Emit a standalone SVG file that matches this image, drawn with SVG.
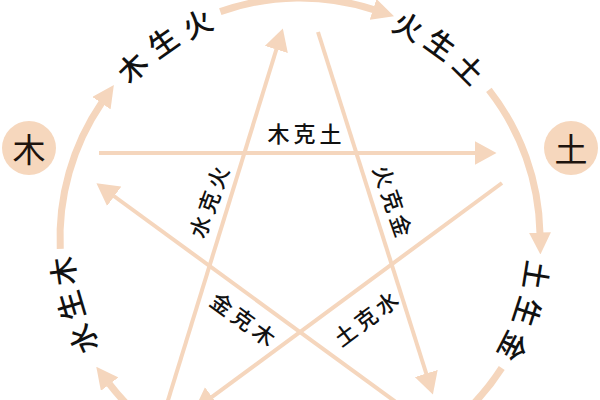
<svg xmlns="http://www.w3.org/2000/svg" width="600" height="400" viewBox="0 0 600 400">
  <style>
    .arc { fill: none; stroke: #f5d6bd; stroke-width: 7; stroke-linecap: butt; }
    .ln { fill: none; stroke: #f5d6bd; stroke-width: 4; stroke-linecap: butt; }
    .node { fill: #f6d7bd; }
    .nt { font-family: "Noto Sans CJK SC", "Noto Sans", sans-serif; font-size: 33px; fill: #1e140e; text-anchor: middle; dominant-baseline: central; }
    .ot { font-family: "Noto Sans CJK SC", "Noto Sans", sans-serif; font-size: 29px; font-weight: 500; fill: #111; text-anchor: middle; dominant-baseline: central; }
    .it { font-family: "Noto Sans CJK SC", "Noto Sans", sans-serif; font-size: 22px; font-weight: 500; fill: #111; text-anchor: middle; dominant-baseline: central; letter-spacing: 4px; }
  </style>
  <defs>
    <marker id="ao" markerUnits="userSpaceOnUse" viewBox="0 0 22 22" markerWidth="22" markerHeight="22" refX="0.5" refY="11" orient="auto">
      <path d="M0,0 L22,11 L0,22 z" fill="#f5d6bd"/>
    </marker>
    <marker id="ai" markerUnits="userSpaceOnUse" viewBox="0 0 22 24" markerWidth="22" markerHeight="24" refX="0.5" refY="12" orient="auto">
      <path d="M0,0 L22,12 L0,24 z" fill="#f5d6bd"/>
    </marker>
  </defs>
  <rect width="600" height="400" fill="#ffffff"/>

  <g id="connectors">
    <!-- outer generating cycle -->
    <path class="arc" d="M60.25,248.9 A240,240 0 0 1 101.74,102.75" marker-end="url(#ao)"/>
    <path class="arc" d="M220.28,11.63 A240,240 0 0 1 373.55,9.55" marker-end="url(#ao)"/>
    <path class="arc" d="M488.87,89.91 A240,240 0 0 1 539.95,232.97" marker-end="url(#ao)"/>
    <path class="arc" d="M501.74,368.01 A240,240 0 0 1 463.68,413.52"/>
    <path class="arc" d="M145.73,421.85 A240,240 0 0 1 109.34,383.77" marker-end="url(#ao)"/>
    <!-- inner controlling star -->
    <path class="ln" d="M99,153 L475,153" marker-end="url(#ai)"/>
    <path class="ln" d="M165,410 L276.5,49" marker-end="url(#ai)"/>
    <path class="ln" d="M318,32 L426.4,374" marker-end="url(#ai)"/>
    <path class="ln" d="M405,408.7 L113.8,196" marker-end="url(#ai)"/>
    <path class="ln" d="M502,183 L211.7,397.1" marker-end="url(#ai)"/>
  </g>

  <g id="labels-outer">
    <g id="lbl-shuishengmu">
      <text class="ot" transform="translate(81.6,339.8) rotate(245)">水</text>
      <text class="ot" transform="translate(68.9,306.4) rotate(253.5)">生</text>
      <text class="ot" transform="translate(61.3,271.5) rotate(262)">木</text>
    </g>
    <g id="lbl-mushenghuo">
      <text class="ot" transform="translate(131.1,66.1) rotate(315.5)">木</text>
      <text class="ot" transform="translate(161.8,40.6) rotate(325)">生</text>
      <text class="ot" transform="translate(196.5,22) rotate(334.5)">火</text>
    </g>
    <g id="lbl-huoshengtu">
      <text class="ot" transform="translate(409,24.5) rotate(27)">火</text>
      <text class="ot" transform="translate(441.7,43) rotate(36)">生</text>
      <text class="ot" transform="translate(470.4,67.6) rotate(45)">土</text>
    </g>
    <g id="lbl-tushengjin">
      <text class="ot" transform="translate(538,275.7) rotate(99)">土</text>
      <text class="ot" transform="translate(529.2,312.5) rotate(108)">生</text>
      <text class="ot" transform="translate(514.7,347.4) rotate(117)">金</text>
    </g>
  </g>

  <g id="labels-inner">
    <text class="it" transform="translate(304.5,132)" x="2">木克土</text>
    <text class="it" transform="translate(207.5,201.5) rotate(-70)" x="2">水克火</text>
    <text class="it" transform="translate(394,200.5) rotate(71)" x="2">火克金</text>
    <text class="it" transform="translate(244,318) rotate(36)" x="2">金克木</text>
    <text class="it" transform="translate(365,317.5) rotate(-37)" x="2">土克水</text>
  </g>

  <g id="node-mu">
    <circle class="node" cx="29" cy="148" r="27"/>
    <text class="nt" x="29" y="148">木</text>
  </g>
  <g id="node-tu">
    <circle class="node" cx="571" cy="148" r="27"/>
    <text class="nt" x="571" y="148">土</text>
  </g>
</svg>
